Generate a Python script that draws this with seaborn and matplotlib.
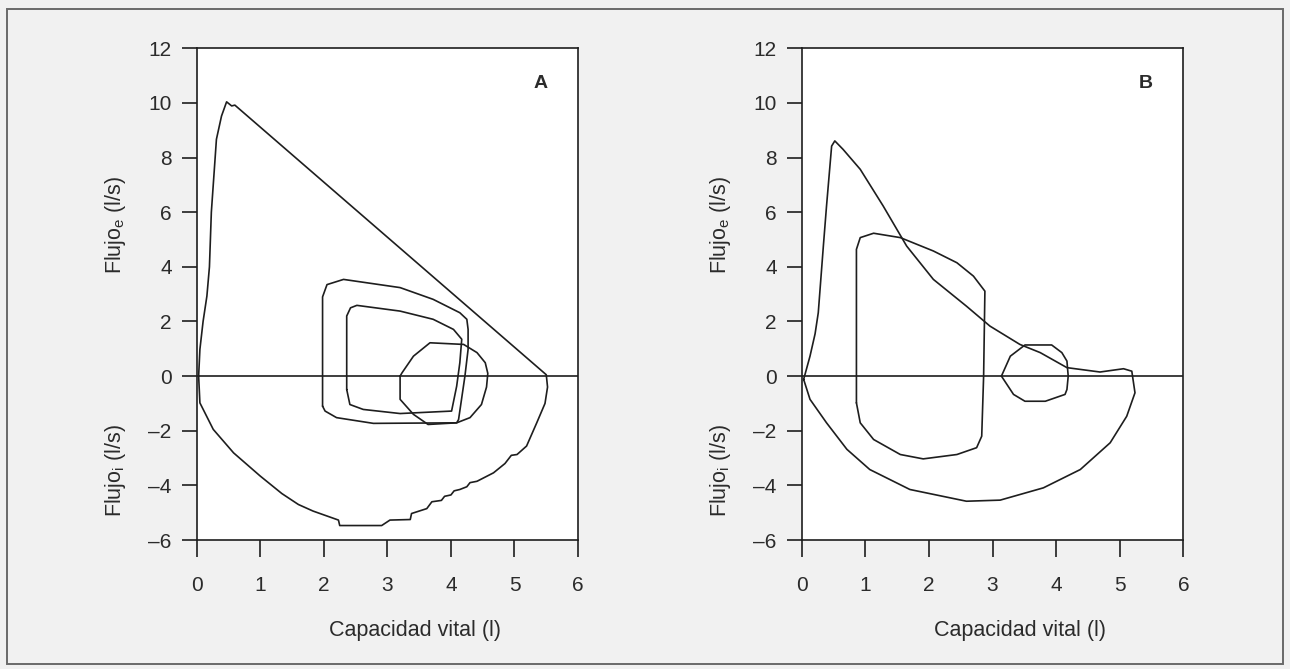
import numpy as np
import pandas as pd
import matplotlib
matplotlib.use("Agg")
import matplotlib.pyplot as plt
import seaborn as sns
from matplotlib.patches import Rectangle

# ---------------- data ----------------
# Panel A: main maximal loop (expiration then inspiration)
a_main_x = [0.03, 0.05, 0.10, 0.16, 0.20, 0.23, 0.29, 0.31, 0.39, 0.47, 0.55, 0.60, 5.50,
            5.52, 5.48, 5.35, 5.19, 5.04, 4.95, 4.85, 4.67, 4.41, 4.30, 4.25, 4.14, 4.05,
            4.00, 3.90, 3.85, 3.70, 3.62, 3.38, 3.36, 3.04, 2.91, 2.25, 2.23, 1.83, 1.60,
            1.34, 1.00, 0.58, 0.26, 0.05, 0.03]
a_main_y = [0.00, 0.98, 2.00, 2.93, 4.00, 6.00, 8.00, 8.67, 9.52, 10.04, 9.89, 9.92, 0.05,
            -0.40, -1.00, -1.71, -2.56, -2.87, -2.90, -3.20, -3.54, -3.85, -3.90, -4.05, -4.15, -4.20,
            -4.35, -4.40, -4.55, -4.60, -4.85, -5.03, -5.25, -5.27, -5.47, -5.47, -5.27, -4.94, -4.70,
            -4.30, -3.66, -2.81, -1.95, -0.98, 0.00]
# Panel A: larger tidal loop
a_loop2_x = [1.98, 1.98, 2.05, 2.31, 3.20, 3.72, 4.14, 4.25, 4.27, 4.27, 4.22, 4.12,
             4.09, 2.78, 2.20, 2.02, 1.98]
a_loop2_y = [-1.10, 2.90, 3.35, 3.54, 3.24, 2.81, 2.32, 2.08, 1.71, 0.98, 0.00, -1.59,
             -1.71, -1.73, -1.52, -1.28, -1.10]
# Panel A: smaller tidal loop
a_loop3_x = [2.36, 2.36, 2.42, 2.52, 3.20, 3.72, 4.04, 4.17, 4.14, 4.09, 4.01,
             3.20, 2.62, 2.41, 2.36]
a_loop3_y = [-0.49, 2.20, 2.50, 2.59, 2.38, 2.08, 1.71, 1.35, 0.49, -0.37, -1.28,
             -1.37, -1.22, -1.04, -0.49]
# Panel A: smallest loop
a_loop4_x = [3.20, 3.23, 3.41, 3.67, 4.20, 4.41, 4.54, 4.58, 4.56, 4.48, 4.30, 4.09, 3.64, 3.41, 3.20, 3.20]
a_loop4_y = [0.00, 0.12, 0.73, 1.22, 1.16, 0.86, 0.49, 0.10, -0.40, -1.04, -1.52, -1.71, -1.77, -1.40, -0.85, 0.00]

# Panel B: main maximal loop
b_main_x = [0.03, 0.13, 0.21, 0.26, 0.34, 0.39, 0.47, 0.52, 0.65, 0.92, 1.28, 1.65, 2.07,
            2.59, 2.96, 3.43, 3.75, 4.17, 4.69, 5.06, 5.19, 5.24, 5.11, 4.85, 4.38, 3.80,
            3.12, 2.59, 1.70, 1.07, 0.71, 0.39, 0.13, 0.03]
b_main_y = [-0.12, 0.73, 1.55, 2.32, 4.76, 6.23, 8.42, 8.61, 8.30, 7.57, 6.23, 4.76, 3.54,
            2.56, 1.83, 1.16, 0.86, 0.31, 0.15, 0.27, 0.18, -0.61, -1.47, -2.44, -3.42, -4.09,
            -4.54, -4.58, -4.15, -3.42, -2.68, -1.71, -0.85, -0.12]
# Panel B: tidal loop
b_loop2_x = [0.86, 0.86, 0.92, 1.13, 1.55, 2.07, 2.44, 2.70, 2.88, 2.86, 2.83, 2.75,
             2.44, 1.91, 1.55, 1.13, 0.92, 0.86]
b_loop2_y = [-0.98, 4.64, 5.07, 5.23, 5.07, 4.58, 4.15, 3.66, 3.11, 0.00, -2.20, -2.62,
             -2.87, -3.03, -2.87, -2.32, -1.71, -0.98]
# Panel B: small loop
b_loop3_x = [3.14, 3.28, 3.51, 3.93, 4.09, 4.17, 4.19, 4.17, 4.14, 3.83, 3.51, 3.33, 3.14]
b_loop3_y = [0.00, 0.73, 1.14, 1.14, 0.86, 0.55, 0.00, -0.49, -0.67, -0.92, -0.92, -0.67, 0.00]

x_ticks = [0, 1, 2, 3, 4, 5, 6]
y_ticks = [-6, -4, -2, 0, 2, 4, 6, 8, 10, 12]
panel_letters = ["A", "B"]
x_label = "Capacidad vital (l)"
y_label_e = r"Flujo$_{e}$ (l/s)"
y_label_i = r"Flujo$_{i}$ (l/s)"

# ---------------- style ----------------
sns.set_theme(style="white")
plt.rcParams["font.family"] = ["Liberation Sans", "DejaVu Sans"]
plt.rcParams["mathtext.default"] = "regular"
TXT = "#2b2b2b"
LINE = "#1e1e1e"

fig = plt.figure(figsize=(12.9, 6.69), dpi=100, facecolor="#f1f1f1")
fig.patches.append(Rectangle((0.0055, 0.008), 0.989, 0.979, transform=fig.transFigure,
                             fill=False, edgecolor="#6a6a6a", linewidth=1.4))

axA = fig.add_axes([0.1525, 0.1928, 0.2956, 0.7350])
axB = fig.add_axes([0.6215, 0.1928, 0.2958, 0.7350])

panels = [
    (axA, [(a_main_x, a_main_y), (a_loop2_x, a_loop2_y), (a_loop3_x, a_loop3_y), (a_loop4_x, a_loop4_y)]),
    (axB, [(b_main_x, b_main_y), (b_loop2_x, b_loop2_y), (b_loop3_x, b_loop3_y)]),
]

for (ax, loops), letter in zip(panels, panel_letters):
    ax.set_facecolor("white")
    for lx, ly in loops:
        df = pd.DataFrame({"x": lx, "y": ly})
        sns.lineplot(data=df, x="x", y="y", sort=False, estimator=None,
                     color=LINE, linewidth=1.2, ax=ax)
    ax.axhline(0, color=LINE, linewidth=1.2)
    ax.set_xlim(0, 6)
    ax.set_ylim(-6, 12)
    ax.set_xticks(x_ticks)
    ax.set_yticks(y_ticks)
    ax.set_xticklabels([str(v) for v in x_ticks])
    ax.set_yticklabels([str(v).replace("-", "\u2013") for v in y_ticks])
    ax.tick_params(axis="x", direction="out", length=12, width=1.2, color=LINE,
                   labelsize=15, labelcolor=TXT, pad=14, bottom=True)
    ax.tick_params(axis="y", direction="out", length=11, width=1.2, color=LINE,
                   labelsize=15, labelcolor=TXT, pad=7, left=True)
    for s in ax.spines.values():
        s.set_visible(True)
        s.set_color(LINE)
        s.set_linewidth(1.2)
    ax.set_xlabel(x_label, fontsize=15.5, color=TXT)
    ax.xaxis.set_label_coords(0.573, -0.163)
    ax.set_ylabel("")
    ax.text(-0.214, 0.64, y_label_e, transform=ax.transAxes, rotation=90,
            ha="center", va="center", fontsize=15.5, color=TXT)
    ax.text(-0.214, 0.142, y_label_i, transform=ax.transAxes, rotation=90,
            ha="center", va="center", fontsize=15.5, color=TXT)
    ax.text(0.902, 0.929, letter, transform=ax.transAxes, ha="center", va="center",
            fontsize=14, fontweight="bold", color=TXT)

fig.savefig("out.png", dpi=100, facecolor=fig.get_facecolor())
